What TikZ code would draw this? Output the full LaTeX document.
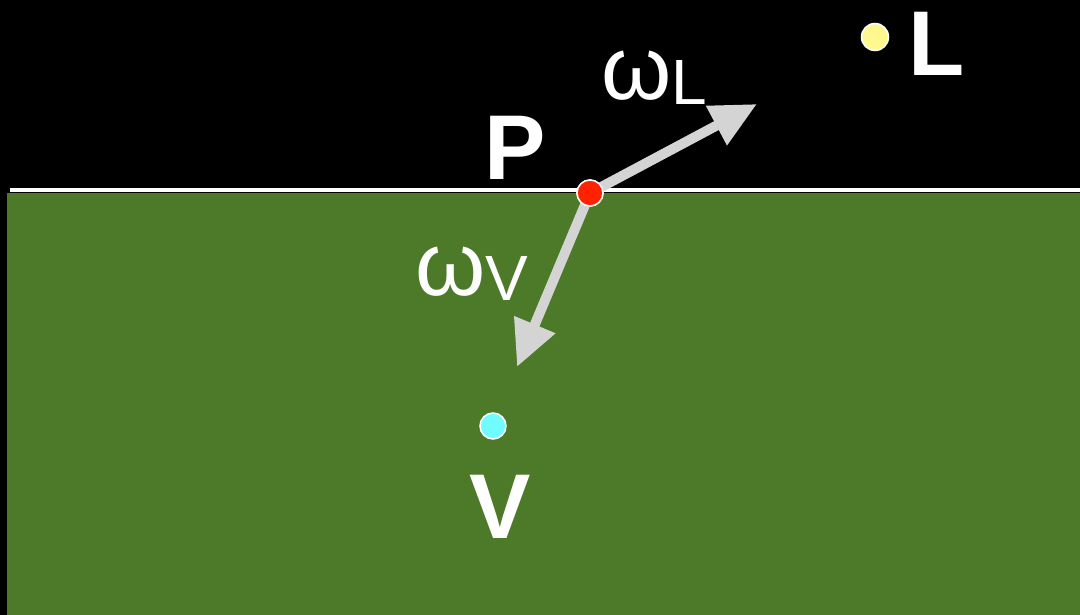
\documentclass[tikz,border=0pt]{standalone}
\usepackage{fontspec}
\setmainfont{Liberation Sans}
\usetikzlibrary{arrows.meta}
\definecolor{grass}{HTML}{4C7A28}
\definecolor{arrowgray}{HTML}{D4D4D4}
\definecolor{pred}{HTML}{FF2200}
\definecolor{lyellow}{HTML}{FFF88E}
\definecolor{vcyan}{HTML}{70FCFF}
\tikzset{
  dot/.style={circle,draw=white,line width=1.5pt,inner sep=0pt,minimum size=26pt},
  bigletter/.style={text=white,font=\fontsize{92}{92}\selectfont\bfseries,inner sep=0pt,anchor=base},
  omegalabel/.style={text=white,inner sep=0pt,anchor=base west},
  ray/.style={arrowgray,line width=10pt,-{Triangle[length=46pt,width=42pt]}}
}
\newcommand{\omg}[1]{{\fontsize{90}{90}\selectfont ω}{\fontsize{64}{64}\selectfont\raisebox{-5pt}{#1}}}
\begin{document}
\begin{tikzpicture}[x=1pt,y=-1pt]
\useasboundingbox (0,0) rectangle (1080,615);
\fill[black] (0,0) rectangle (1080,615);
\fill[grass] (7,193) rectangle (1080,615);
\draw[white,line width=4pt] (10,190.5) -- (1080,190.5);
\coordinate (tipL) at (757,104);
\coordinate (tipV) at (517,367);
\node[dot,fill=pred] (Pdot) at (590,193) {};
\draw[ray] (Pdot.center) -- (tipL);
\draw[ray] (Pdot.center) -- (tipV);
\node[dot,fill=pred] (Pdot2) at (590,193) {};
\node[dot,fill=lyellow,minimum size=27pt] (Ldot) at (875,37) {};
\node[dot,fill=vcyan] (Vdot) at (493,426) {};
\node[bigletter] (Plab) at (515,180) {P};
\node[bigletter] (Llab) at (937,76) {L};
\node[bigletter] (Vlab) at (500,538) {V};
\node[omegalabel] (wL) at (601,100) {\omg{L}};
\node[omegalabel] (wV) at (415,295) {\omg{V}};
\end{tikzpicture}
\end{document}
